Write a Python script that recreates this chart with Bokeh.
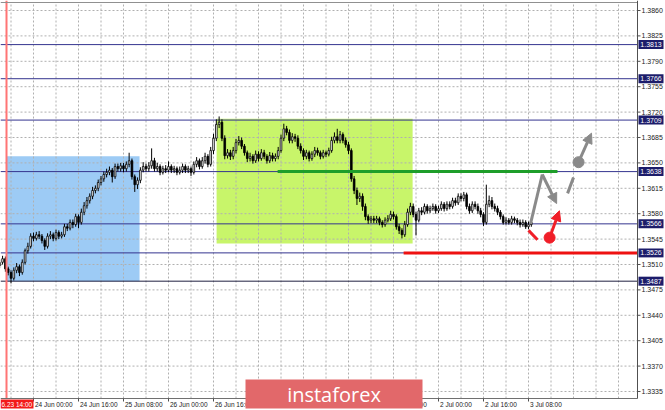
from bokeh.plotting import figure
from bokeh.models import Range1d, Arrow, NormalHead
from bokeh.embed import file_html
from bokeh.resources import INLINE
from bokeh.core.properties import value

# ---------------- data ----------------
bar_start = -12          # bar index of first candle (0 = 24 Jun 00:00, H1 bars)
first_open = 1.3508
closes = [
    1.3513, 1.3518, 1.3504, 1.3499, 1.3491, 1.3502, 1.3507, 1.3499, 1.3513, 1.3529, 1.3535, 1.3549,
    1.3546, 1.3551, 1.3549, 1.3543, 1.3535, 1.3549, 1.3551, 1.3546, 1.3554, 1.3549, 1.3551, 1.3562, 1.3560, 1.3568, 1.3565, 1.3576,
    1.3568, 1.3582, 1.3591, 1.3598, 1.3604, 1.3612, 1.3615, 1.3623, 1.3628, 1.3634, 1.3637, 1.3640, 1.3631, 1.3645, 1.3642, 1.3646,
    1.3642, 1.3648, 1.3653, 1.3631, 1.3620, 1.3626, 1.3640, 1.3645, 1.3642, 1.3646, 1.3653, 1.3642, 1.3645, 1.3637, 1.3642, 1.3640,
    1.3645, 1.3640, 1.3642, 1.3637, 1.3640, 1.3645, 1.3640, 1.3642, 1.3637, 1.3648, 1.3653, 1.3645, 1.3653, 1.3659, 1.3648, 1.3667,
    1.3684, 1.3703, 1.3706, 1.3684, 1.3660, 1.3664, 1.3659, 1.3667, 1.3678, 1.3681, 1.3673, 1.3664, 1.3656, 1.3659, 1.3653, 1.3662,
    1.3656, 1.3664, 1.3659, 1.3653, 1.3660, 1.3656, 1.3659, 1.3667, 1.3684, 1.3697, 1.3692, 1.3681, 1.3686, 1.3684, 1.3673, 1.3667,
    1.3659, 1.3664, 1.3656, 1.3662, 1.3667, 1.3664, 1.3659, 1.3664, 1.3662, 1.3667, 1.3681, 1.3686, 1.3681, 1.3689, 1.3681, 1.3675,
    1.3667, 1.3628, 1.3612, 1.3601, 1.3604, 1.3590, 1.3576, 1.3571, 1.3573, 1.3571, 1.3573, 1.3568, 1.3565, 1.3571, 1.3573, 1.3579,
    1.3576, 1.3562, 1.3557, 1.3551, 1.3565, 1.3582, 1.3590, 1.3579, 1.3571, 1.3584, 1.3582, 1.3590, 1.3584, 1.3587, 1.3590, 1.3584,
    1.3587, 1.3593, 1.3587, 1.3593, 1.3590, 1.3598, 1.3595, 1.3604, 1.3601, 1.3606, 1.3590, 1.3584, 1.3593, 1.3590, 1.3584, 1.3579,
    1.3568, 1.3593, 1.3598, 1.3590, 1.3587, 1.3582, 1.3576, 1.3568, 1.3571, 1.3568, 1.3573, 1.3571, 1.3568, 1.3565, 1.3568, 1.3562,
    1.3565, 1.3568,
]
highs = [
    1.3517, 1.3522, 1.3521, 1.3507, 1.3502, 1.3506, 1.3512, 1.3510, 1.3517, 1.3532, 1.3540, 1.3553,
    1.3554, 1.3555, 1.3556, 1.3552, 1.3546, 1.3553, 1.3556, 1.3554, 1.3558, 1.3557, 1.3555, 1.3566, 1.3566, 1.3572, 1.3572, 1.3580,
    1.3579, 1.3587, 1.3596, 1.3603, 1.3608, 1.3617, 1.3619, 1.3627, 1.3632, 1.3638, 1.3642, 1.3645, 1.3643, 1.3649, 1.3649, 1.3650,
    1.3650, 1.3652, 1.3664, 1.3656, 1.3634, 1.3630, 1.3644, 1.3651, 1.3649, 1.3651, 1.3670, 1.3657, 1.3650, 1.3648, 1.3646, 1.3647,
    1.3652, 1.3648, 1.3646, 1.3645, 1.3645, 1.3649, 1.3648, 1.3646, 1.3645, 1.3652, 1.3658, 1.3656, 1.3658, 1.3664, 1.3662, 1.3672,
    1.3690, 1.3710, 1.3714, 1.3710, 1.3688, 1.3669, 1.3668, 1.3672, 1.3683, 1.3687, 1.3685, 1.3676, 1.3667, 1.3664, 1.3662, 1.3667,
    1.3666, 1.3669, 1.3668, 1.3662, 1.3665, 1.3664, 1.3663, 1.3672, 1.3689, 1.3704, 1.3701, 1.3696, 1.3691, 1.3690, 1.3688, 1.3677,
    1.3670, 1.3668, 1.3667, 1.3666, 1.3672, 1.3671, 1.3667, 1.3668, 1.3667, 1.3671, 1.3686, 1.3692, 1.3697, 1.3694, 1.3692, 1.3685,
    1.3679, 1.3670, 1.3632, 1.3616, 1.3609, 1.3608, 1.3594, 1.3579, 1.3577, 1.3577, 1.3577, 1.3576, 1.3571, 1.3575, 1.3578, 1.3584,
    1.3583, 1.3579, 1.3566, 1.3560, 1.3570, 1.3587, 1.3595, 1.3594, 1.3583, 1.3588, 1.3589, 1.3594, 1.3593, 1.3591, 1.3594, 1.3593,
    1.3591, 1.3597, 1.3596, 1.3597, 1.3597, 1.3602, 1.3602, 1.3608, 1.3608, 1.3610, 1.3609, 1.3594, 1.3597, 1.3597, 1.3594, 1.3588,
    1.3582, 1.3620, 1.3605, 1.3603, 1.3594, 1.3591, 1.3585, 1.3579, 1.3575, 1.3574, 1.3577, 1.3576, 1.3574, 1.3572, 1.3572, 1.3571,
    1.3569, 1.3571,
]
lows = [
    1.3505, 1.3510, 1.3500, 1.3495, 1.3484, 1.3488, 1.3498, 1.3494, 1.3496, 1.3510, 1.3525, 1.3532,
    1.3542, 1.3543, 1.3545, 1.3539, 1.3530, 1.3532, 1.3545, 1.3542, 1.3543, 1.3545, 1.3546, 1.3548, 1.3556, 1.3557, 1.3560, 1.3562,
    1.3560, 1.3565, 1.3578, 1.3587, 1.3594, 1.3600, 1.3608, 1.3611, 1.3619, 1.3624, 1.3630, 1.3633, 1.3623, 1.3628, 1.3638, 1.3638,
    1.3637, 1.3638, 1.3644, 1.3627, 1.3610, 1.3614, 1.3622, 1.3637, 1.3638, 1.3638, 1.3642, 1.3638, 1.3638, 1.3633, 1.3634, 1.3636,
    1.3637, 1.3636, 1.3636, 1.3633, 1.3634, 1.3636, 1.3636, 1.3636, 1.3632, 1.3634, 1.3644, 1.3641, 1.3642, 1.3649, 1.3644, 1.3645,
    1.3662, 1.3680, 1.3698, 1.3680, 1.3655, 1.3656, 1.3654, 1.3655, 1.3663, 1.3674, 1.3669, 1.3660, 1.3651, 1.3652, 1.3649, 1.3650,
    1.3652, 1.3653, 1.3655, 1.3649, 1.3650, 1.3652, 1.3652, 1.3655, 1.3664, 1.3680, 1.3688, 1.3677, 1.3677, 1.3679, 1.3669, 1.3663,
    1.3654, 1.3655, 1.3652, 1.3653, 1.3658, 1.3660, 1.3655, 1.3656, 1.3658, 1.3659, 1.3664, 1.3677, 1.3677, 1.3677, 1.3677, 1.3671,
    1.3662, 1.3624, 1.3607, 1.3592, 1.3596, 1.3584, 1.3571, 1.3566, 1.3567, 1.3567, 1.3567, 1.3564, 1.3561, 1.3562, 1.3568, 1.3570,
    1.3572, 1.3558, 1.3552, 1.3546, 1.3548, 1.3562, 1.3578, 1.3575, 1.3550, 1.3568, 1.3578, 1.3579, 1.3580, 1.3581, 1.3584, 1.3580,
    1.3581, 1.3584, 1.3583, 1.3584, 1.3586, 1.3587, 1.3591, 1.3592, 1.3597, 1.3597, 1.3586, 1.3580, 1.3581, 1.3586, 1.3580, 1.3575,
    1.3563, 1.3565, 1.3589, 1.3586, 1.3583, 1.3578, 1.3572, 1.3565, 1.3565, 1.3565, 1.3565, 1.3567, 1.3564, 1.3561, 1.3562, 1.3559,
    1.3559, 1.3562,
]

tick_bars = [0, 16, 32, 48, 64, 80, 96, 112, 128, 144, 160, 176]
tick_labels = ["24 Jun 00:00", "24 Jun 16:00", "25 Jun 08:00", "26 Jun 00:00", "26 Jun 16:00",
               "27 Jun 08:00", "28 Jun 00:00", "28 Jun 16:00", "1 Jul 08:00", "2 Jul 00:00",
               "2 Jul 16:00", "3 Jul 08:00"]
grid_bars = [-8, 0, 8, 16, 24, 32, 40, 48, 56, 64, 72, 80, 88, 96, 104, 112, 120, 128, 136,
             144, 152, 160, 168, 176, 184, 192, 200, 208]
price_ticks = [1.3335, 1.3370, 1.3405, 1.3440, 1.3475, 1.3510, 1.3545, 1.3580, 1.3615,
               1.3650, 1.3685, 1.3720, 1.3755, 1.3790, 1.3825, 1.3860]
level_prices = [1.3813, 1.3766, 1.3709, 1.3638, 1.3566, 1.3526, 1.3487]

vline_bar = -9.6
vline_label = "6.23 14:00"

blue_zone = dict(left=-9.6, right=37.7, bottom=1.3487, top=1.3659)
green_zone = dict(left=65.1, right=134.8, bottom=1.3539, top=1.3711)
green_line = dict(x0=86.8, x1=186.3, price=1.3638)
red_line_start, red_line_price = 131.6, 1.3526

# forecast sketch (bar index, price)
gray_path_x = [176.7, 180.9, 186.0]
gray_path_y = [1.3566, 1.3634, 1.3594]
gray_dash_x = [189.9, 192.0]
gray_dash_y = [1.3608, 1.3630]
gray_dot = (193.8, 1.3651)
gray_tip = (198.4, 1.3691)
red_dash_x = [176.0, 179.2]
red_dash_y = [1.3557, 1.3544]
red_dot = (183.5, 1.3547)
red_tip = (187.0, 1.3584)

# ---------------- layout (scales) ----------------
W, H = 665, 410
PPB = 2.8125            # pixels per H1 bar
PPU = 7257.0            # pixels per price unit
XL = -33 / PPB          # left edge of canvas, in bars
YT = 1.3860 + 10 / PPU  # top edge of canvas, in price
XR = XL + W / PPB
YB = YT - H / PPU


def bx(px):
    return XL + px / PPB


def py(px):
    return YT - px / PPU


CL, CR, CT, CB = bx(0), bx(637), py(2), py(398)

p = figure(width=W, height=H, output_backend="svg", toolbar_location=None,
           x_range=Range1d(XL, XR), y_range=Range1d(YB, YT),
           x_axis_location=None, y_axis_location=None, min_border=0)
p.background_fill_color = "white"
p.border_fill_color = "white"
p.outline_line_color = None
p.grid.visible = False

FONT = value("Liberation Sans")

# zones
p.quad(left=[blue_zone["left"]], right=[blue_zone["right"]], bottom=[blue_zone["bottom"]],
       top=[blue_zone["top"]], fill_color="#9DCBF5", line_color=None)
p.quad(left=[green_zone["left"]], right=[green_zone["right"]], bottom=[green_zone["bottom"]],
       top=[green_zone["top"]], fill_color="#C8F56A", line_color=None)

# dashed grid
p.segment(x0=grid_bars, x1=grid_bars, y0=[CB] * len(grid_bars), y1=[CT] * len(grid_bars),
          line_color="#b0b0b0", line_dash="2 2", line_width=1)
p.segment(x0=[CL] * len(price_ticks), x1=[CR] * len(price_ticks), y0=price_ticks, y1=price_ticks,
          line_color="#b0b0b0", line_dash="2 2", line_width=1)

# level lines
p.segment(x0=[CL] * len(level_prices), x1=[CR] * len(level_prices), y0=level_prices, y1=level_prices,
          line_color=["#34348f"] * (len(level_prices) - 1) + ["#202040"], line_width=1)

# candles
n = min(len(closes), len(highs), len(lows))
bars = list(range(bar_start, bar_start + n))
opens = [first_open] + closes[:n - 1]
tops = [max(o, c) for o, c in zip(opens, closes[:n])]
bots = [min(o, c) for o, c in zip(opens, closes[:n])]
fills = ["white" if c >= o else "black" for o, c in zip(opens, closes[:n])]
p.segment(x0=bars, y0=lows[:n], x1=bars, y1=highs[:n], line_color="black", line_width=1)
p.vbar(x=bars, width=0.6, top=tops, bottom=bots, fill_color=fills, line_color="black", line_width=0.8)

# thick support / resistance segments
p.segment(x0=[green_line["x0"]], x1=[green_line["x1"]], y0=[green_line["price"]], y1=[green_line["price"]],
          line_color="#1e9e2a", line_width=3)
p.segment(x0=[red_line_start], x1=[CR], y0=[red_line_price], y1=[red_line_price],
          line_color="#ee1111", line_width=3)

# vertical red line
p.segment(x0=[vline_bar], x1=[vline_bar], y0=[CB], y1=[YT], line_color="#ff7575", line_width=2)

# frame lines
p.segment(x0=[CL], x1=[CR], y0=[CT], y1=[CT], line_color="#909090", line_width=1)
p.segment(x0=[CL], x1=[CR], y0=[CB], y1=[CB], line_color="#707070", line_width=1)
p.segment(x0=[CR], x1=[CR], y0=[CB], y1=[YT], line_color="#505050", line_width=1)

# price axis (right)
p.segment(x0=[CR] * len(price_ticks), x1=[bx(640)] * len(price_ticks), y0=price_ticks, y1=price_ticks,
          line_color="#505050", line_width=1)
p.text(x=[bx(641)] * len(price_ticks), y=price_ticks, text=[f"{t:.4f}" for t in price_ticks],
       text_font=FONT, text_font_size="7px", text_color="#222222",
       text_align="left", text_baseline="middle")

# time axis (bottom)
p.segment(x0=tick_bars, x1=tick_bars, y0=[CB] * len(tick_bars), y1=[py(401)] * len(tick_bars),
          line_color="#505050", line_width=1)
p.text(x=[b + 1.5 / PPB for b in tick_bars], y=[py(403.5)] * len(tick_bars), text=tick_labels,
       text_font=FONT, text_font_size="6.5px", text_color="#222222",
       text_align="left", text_baseline="middle")

# price boxes of the level lines
p.quad(left=[bx(638)] * len(level_prices), right=[bx(663)] * len(level_prices),
       bottom=[v - 4.5 / PPU for v in level_prices], top=[v + 4.5 / PPU for v in level_prices],
       fill_color="#1c1c6a", line_color=None)
p.text(x=[bx(650.5)] * len(level_prices), y=level_prices, text=[f"{v:.4f}" for v in level_prices],
       text_font=FONT, text_font_size="7px", text_color="white",
       text_align="center", text_baseline="middle")

# red time label of the vertical line
p.quad(left=[bx(0)], right=[bx(33)], bottom=[py(408)], top=[py(399)], fill_color="#f21b1b", line_color=None)
p.text(x=[bx(1)], y=[py(403.5)], text=[vline_label], text_font=FONT, text_font_size="6.5px",
       text_color="white", text_align="left", text_baseline="middle")

# watermark logo
p.quad(left=[bx(245)], right=[bx(422)], bottom=[py(408)], top=[py(379)], fill_color="#E2686A", line_color=None)
p.text(x=[bx(333.5)], y=[py(393.5)], text=["instaforex"], text_font=value("Open Sans"),
       text_font_size="20px", text_color="white", text_align="center", text_baseline="middle")

# forecast sketch
GRAY = "#8a8a8a"
RED = "#f01e28"
p.line(gray_path_x[:2], gray_path_y[:2], line_color=GRAY, line_width=3)
p.add_layout(Arrow(end=NormalHead(size=10, fill_color=GRAY, line_color=GRAY),
                   x_start=gray_path_x[1], y_start=gray_path_y[1], x_end=gray_path_x[2], y_end=gray_path_y[2],
                   line_color=GRAY, line_width=3))
p.line(gray_dash_x, gray_dash_y, line_color=GRAY, line_width=3)
p.add_layout(Arrow(end=NormalHead(size=10, fill_color=GRAY, line_color=GRAY),
                   x_start=gray_dot[0], y_start=gray_dot[1], x_end=gray_tip[0], y_end=gray_tip[1],
                   line_color=GRAY, line_width=3))
p.scatter([gray_dot[0]], [gray_dot[1]], size=11, fill_color=GRAY, line_color=GRAY)
p.line(red_dash_x, red_dash_y, line_color=RED, line_width=3)
p.add_layout(Arrow(end=NormalHead(size=10, fill_color=RED, line_color=RED),
                   x_start=red_dot[0], y_start=red_dot[1], x_end=red_tip[0], y_end=red_tip[1],
                   line_color=RED, line_width=3))
p.scatter([red_dot[0]], [red_dot[1]], size=11, fill_color=RED, line_color=RED)

open("out.html", "w").write(file_html(p, INLINE))
